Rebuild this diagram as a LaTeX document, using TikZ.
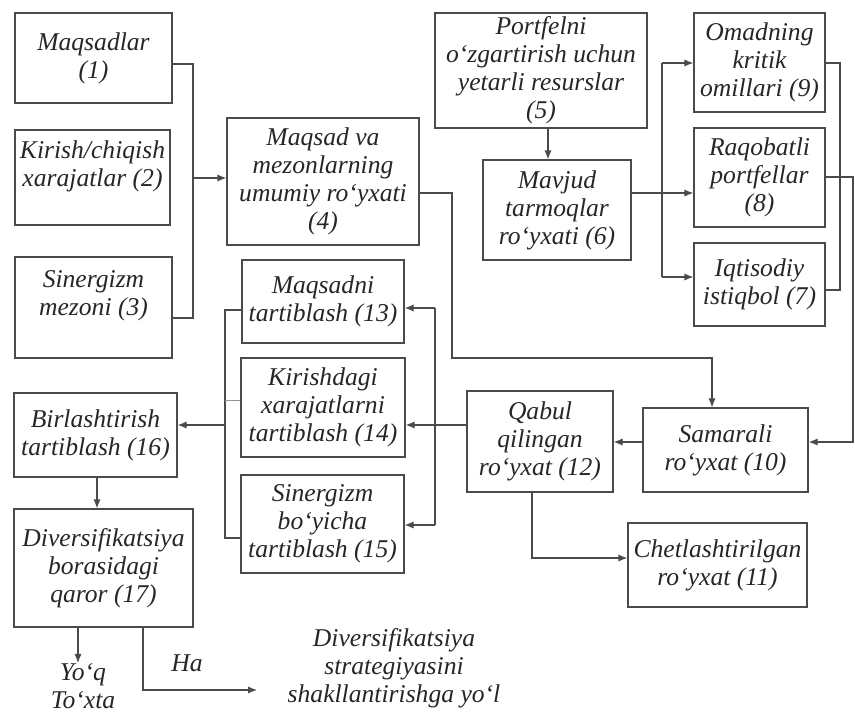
\documentclass[tikz,border=0pt]{standalone}
\usepackage{fontspec}
\setmainfont{Liberation Serif}
\usetikzlibrary{arrows.meta}
\definecolor{linecol}{HTML}{4A4A4A}
\definecolor{textcol}{HTML}{262626}
\tikzset{
  boxst/.style={draw=linecol, line width=0.6pt, align=center, inner sep=0pt,
    font=\fontsize{12.8}{14}\selectfont\itshape, text=textcol},
  lbl/.style={align=center, inner sep=0pt, font=\fontsize{12.8}{14}\selectfont\itshape, text=textcol},
  conn/.style={draw=linecol, line width=0.6pt},
  arr/.style={conn, -{Latex[length=4.5pt,width=3.6pt]}},
  faint/.style={draw=linecol!60, line width=0.4pt}
}
\newcommand\bx[6]{\node[boxst, minimum width={(#4-#2)*0.5pt}, minimum height={(#5-#3)*0.5pt}] (#1) at ({(#2+#4)/2},{(#3+#5)/2}) {#6};}
\begin{document}
\begin{tikzpicture}[x=0.5pt,y=-0.5pt]
\useasboundingbox (0,0) rectangle (855,717);
% boxes
\bx{n1}{15}{13}{172}{103}{Maqsadlar\\(1)}
\bx{n2}{15}{130}{170}{225}{Kirish/chiqish\\xarajatlar (2)\\\mbox{}}
\bx{n3}{15}{257}{172}{358}{Sinergizm\\mezoni (3)\\\mbox{}}
\bx{n4}{227}{118}{419}{245}{Maqsad va\\mezonlarning\\umumiy ro‘yxati\\(4)}
\bx{n5}{435}{13}{647}{128}{Portfelni\\o‘zgartirish uchun\\yetarli resurslar\\(5)}
\bx{n6}{483}{160}{631}{260}{Mavjud\\tarmoqlar\\ro‘yxati (6)}
\bx{n9}{694}{13}{825}{112}{Omadning\\kritik\\omillari (9)}
\bx{n8}{694}{128}{825}{227}{Raqobatli\\portfellar\\(8)}
\bx{n7}{694}{243}{825}{326}{Iqtisodiy\\istiqbol (7)}
\bx{n13}{242}{260}{404}{343}{Maqsadni\\tartiblash (13)}
\bx{n14}{241}{358}{405}{457}{Kirishdagi\\xarajatlarni\\tartiblash (14)}
\bx{n15}{241}{475}{404}{573}{Sinergizm\\bo‘yicha\\tartiblash (15)}
\bx{n16}{14}{393}{177}{477}{Birlashtirish\\tartiblash (16)}
\bx{n17}{14}{509}{193}{627}{Diversifikatsiya\\borasidagi\\qaror (17)}
\bx{n12}{467}{391}{613}{492}{Qabul\\qilingan\\ro‘yxat (12)}
\bx{n10}{643}{408}{808}{492}{Samarali\\ro‘yxat (10)}
\bx{n11}{628}{523}{807}{607}{Chetlashtirilgan\\ro‘yxat (11)}
% free texts
\node[lbl] (yoq) at (83,686) {Yo‘q\\To‘xta};
\node[lbl] (ha) at (187,663) {Ha};
\node[lbl] (strat) at (394,668) {Diversifikatsiya\\strategiyasini\\shakllantirishga yo‘l};
% helper coordinates
\coordinate (b1) at (193,64);
\coordinate (b2) at (193,178);
\coordinate (b3) at (193,318);
\coordinate (c1) at (452,193);
\coordinate (c2) at (452,358);
\coordinate (c3) at (712,358);
\coordinate (d) at (548,0);
\coordinate (e) at (662,193);
\coordinate (e9) at (662,63);
\coordinate (e7) at (662,277);
\coordinate (f9) at (840,63);
\coordinate (f7) at (840,290);
\coordinate (g1) at (853,177);
\coordinate (g2) at (853,442);
\coordinate (h) at (0,442);
\coordinate (i1) at (532,0);
\coordinate (i2) at (532,558);
\coordinate (j) at (0,425);
\coordinate (k1) at (435,308);
\coordinate (k2) at (435,525);
\coordinate (l1) at (225,310);
\coordinate (l2) at (225,538);
\coordinate (l3) at (225,400);
\coordinate (l4) at (225,425);
\coordinate (m) at (97,0);
\coordinate (p) at (78,0);
\coordinate (q) at (143,0);
\coordinate (q2) at (143,690);
\coordinate (q3) at (257,690);
% connectors
\draw[conn] (n1.east |- b1) -- (b1) -- (b3) -- (n3.east |- b3);
\draw[arr] (b2) -- (n4.west |- b2);
\draw[arr] (n4.east |- c1) -- (c1) -- (c2) -- (c3) -- (c3 |- n10.north);
\draw[arr] (n5.south -| d) -- (n6.north -| d);
\draw[arr] (n6.east |- e) -- (n8.west |- e);
\draw[conn] (e9) -- (e7);
\draw[arr] (e9) -- (n9.west |- e9);
\draw[arr] (e7) -- (n7.west |- e7);
\draw[conn] (n9.east |- f9) -- (f9) -- (f7) -- (n7.east |- f7);
\draw[arr] (n8.east |- g1) -- (g1) -- (g2) -- (n10.east |- g2);
\draw[arr] (n10.west |- h) -- (n12.east |- h);
\draw[arr] (n12.south -| i1) -- (i2) -- (n11.west |- i2);
\draw[arr] (n12.west |- j) -- (n14.east |- j);
\draw[conn] (k1) -- (k2);
\draw[arr] (k1) -- (n13.east |- k1);
\draw[arr] (k2) -- (n15.east |- k2);
\draw[conn] (n13.west |- l1) -- (l1) -- (l2) -- (n15.west |- l2);
\draw[faint] (n14.west |- l3) -- (l3);
\draw[arr] (l4) -- (n16.east |- l4);
\draw[arr] (n16.south -| m) -- (n17.north -| m);
\draw[arr] (n17.south -| p) -- (yoq.north -| p);
\draw[arr] (n17.south -| q) -- (q2) -- (q3);
\end{tikzpicture}
\end{document}
